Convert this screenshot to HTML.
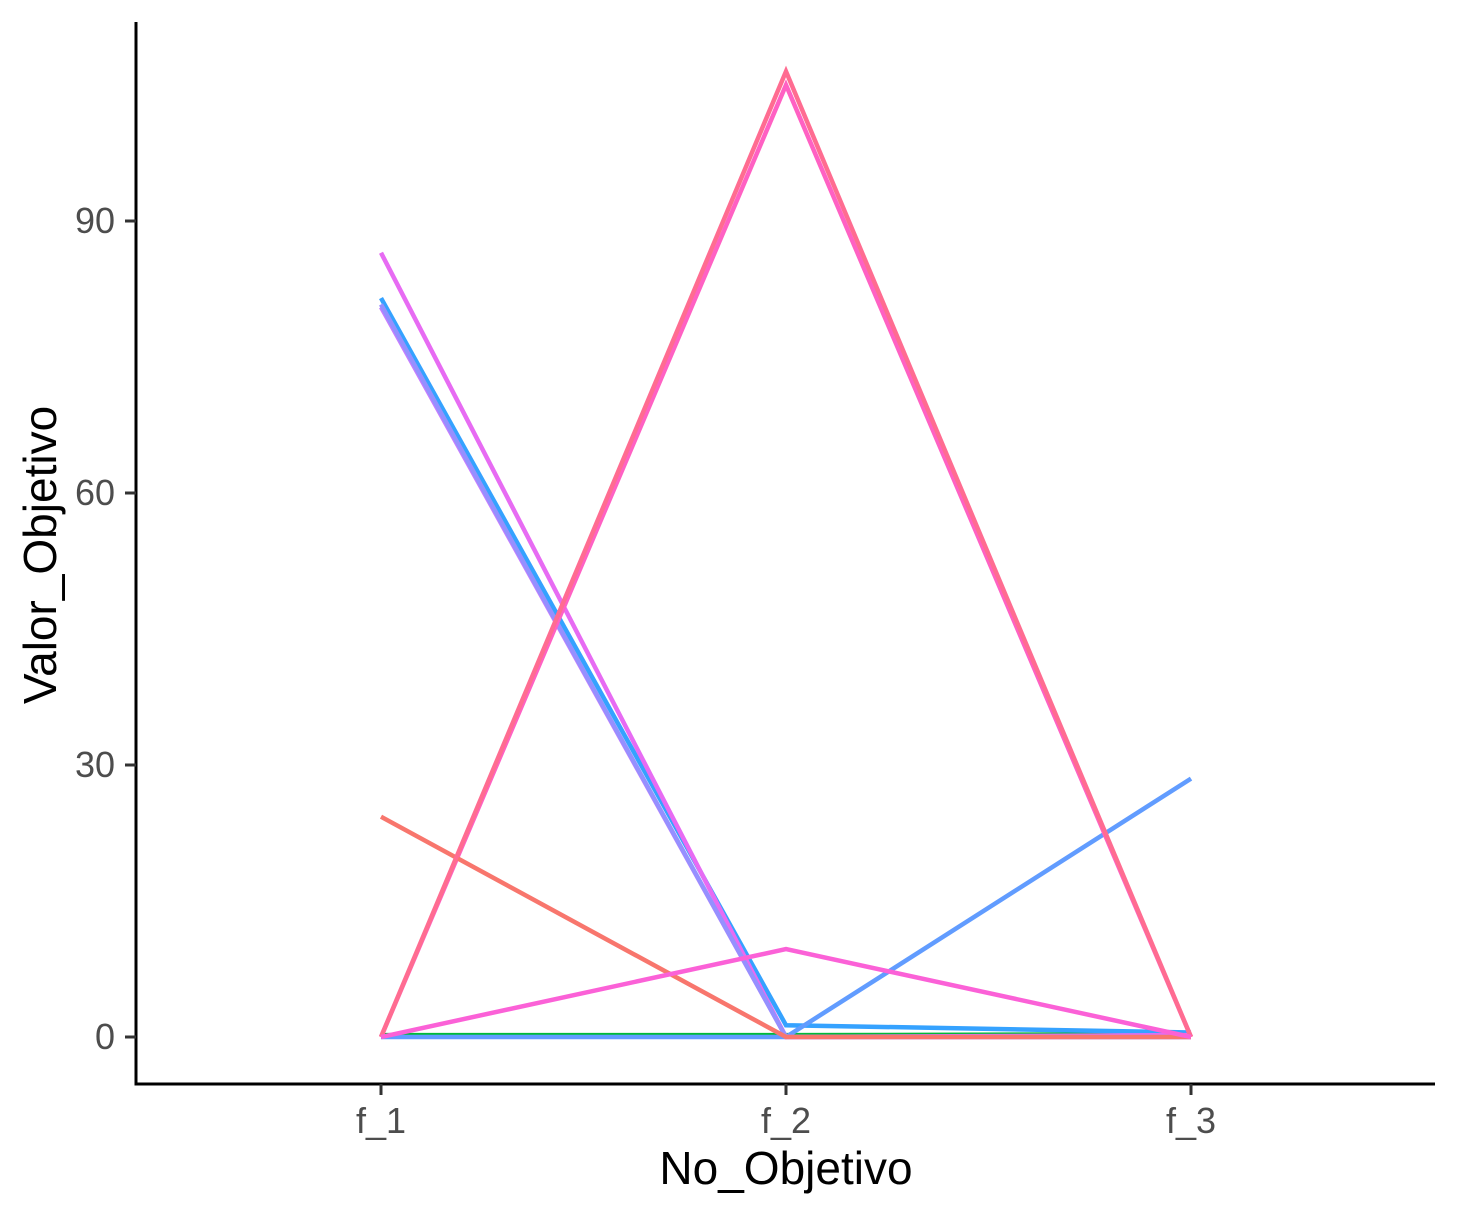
<!DOCTYPE html>
<html><head><meta charset="utf-8"><style>
html,body{margin:0;padding:0;background:#fff;}
svg text{font-family:"Liberation Sans",Arial,sans-serif;}
</style></head><body>
<svg id="chart" width="1459" height="1215" xmlns="http://www.w3.org/2000/svg">
<rect width="1459" height="1215" fill="#fff"/>
<g id="lines"></g>
<line x1="136" y1="22" x2="136" y2="1085.5" stroke="#000" stroke-width="3"/>
<line x1="134.5" y1="1084" x2="1435" y2="1084" stroke="#000" stroke-width="3"/>
<g id="axes"></g>
<text x="786" y="1184" font-size="46" text-anchor="middle" fill="#000">No_Objetivo</text>
<text transform="translate(56,555) rotate(-90)" font-size="46" text-anchor="middle" fill="#000">Valor_Objetivo</text>
</svg>
<script>
const categories = ["f_1","f_2","f_3"];
const yTicks = [0,30,60,90];
const seriesColors = ["#00BA38","#35A2FF","#619CFF","#C77CFF","#E76BF3","#9590FF","#FF61C3","#F8766D","#FF6C91","#FB61D7"];
const s1 = [0.2,0.2,0.3];
const s2 = [81.5,1.3,0.5];
const s3 = [0,0,28.5];
const s4 = [80.5,0,0];
const s5 = [86.5,0,0.2];
const s6 = [80.8,0,0];
const s7 = [0,105,0];
const s8 = [24.3,0,0];
const s9 = [0,106.5,0];
const s10 = [0,9.7,0];
const seriesList = [s1,s2,s3,s4,s5,s6,s7,s8,s9,s10];

const xPos = i => 381 + i*405;
const yPos = v => 1037 - v*(816/90);
const NS = "http://www.w3.org/2000/svg";
const g = document.getElementById("lines");
seriesList.forEach((vals,k)=>{
  const p = document.createElementNS(NS,"polyline");
  p.setAttribute("points", vals.map((v,i)=>xPos(i)+","+yPos(v)).join(" "));
  p.setAttribute("fill","none");
  p.setAttribute("stroke",seriesColors[k]);
  p.setAttribute("stroke-width","4.5");
  
  
  g.appendChild(p);
});
const ax = document.getElementById("axes");
yTicks.forEach(t=>{
  const l = document.createElementNS(NS,"line");
  l.setAttribute("x1",125);l.setAttribute("x2",136);
  l.setAttribute("y1",yPos(t));l.setAttribute("y2",yPos(t));
  l.setAttribute("stroke","#333");l.setAttribute("stroke-width","3");
  
  
  ax.appendChild(l);
  const tx = document.createElementNS(NS,"text");
  tx.setAttribute("x",115);tx.setAttribute("y",yPos(t)+12);
  tx.setAttribute("text-anchor","end");tx.setAttribute("font-size","36");tx.setAttribute("fill","#4d4d4d");
  tx.textContent = t;
  
  
  ax.appendChild(tx);
});
categories.forEach((c,i)=>{
  const l = document.createElementNS(NS,"line");
  l.setAttribute("x1",xPos(i));l.setAttribute("x2",xPos(i));
  l.setAttribute("y1",1084);l.setAttribute("y2",1095);
  l.setAttribute("stroke","#333");l.setAttribute("stroke-width","3");
  
  
  ax.appendChild(l);
  const tx = document.createElementNS(NS,"text");
  tx.setAttribute("x",xPos(i));tx.setAttribute("y",1133);
  tx.setAttribute("text-anchor","middle");tx.setAttribute("font-size","36");tx.setAttribute("fill","#4d4d4d");
  tx.textContent = c;
  
  
  ax.appendChild(tx);
});
</script>
</body></html>
